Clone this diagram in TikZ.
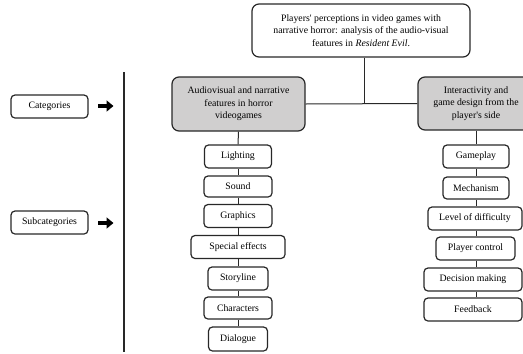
\documentclass[tikz,border=0pt]{standalone}
\usepackage{fontspec}
\setmainfont{Liberation Serif}
\usetikzlibrary{arrows.meta}
\definecolor{boxgray}{RGB}{208,207,207}
\definecolor{edge}{RGB}{40,40,40}
\begin{document}
\begin{tikzpicture}[x=1pt,y=-1pt,
  base/.style={draw=edge,line width=1.2pt,rounded corners=4pt,align=center,
    font=\fontsize{9.8}{12.5}\selectfont,inner sep=0pt,minimum height=23pt},
  sub/.style={base,fill=white},
  cat/.style={base,fill=boxgray,minimum height=54pt,rounded corners=7pt},
  conn/.style={draw=edge,line width=1pt},
  bigarrow/.style={line width=4.5pt,-{Triangle[length=7pt,width=11pt]}}]
\useasboundingbox (0,0) rectangle (523,354);
% title
\node[base,minimum width=218pt,minimum height=53pt,rounded corners=7pt] (top) at (361,30.5)
  {Players\textquotesingle{} perceptions in video games with\\narrative horror: analysis of the audio-visual\\features in \textit{Resident Evil}.};
% categories
\node[cat,minimum width=133pt] (L) at (238.5,104) {Audiovisual and narrative\\features in horror\\videogames};
\node[cat,minimum width=116pt,minimum height=53pt] (R) at (476,103.5) {Interactivity and\\game design from the\\player\textquotesingle s side};
\coordinate (j) at (364,104);
\draw[conn] (top.south -| j) -- (j);
\draw[conn] (L.east) -- (R.west);
% left subcategories
\node[sub,minimum width=67pt] (l1) at (238,156.5) {Lighting};
\node[sub,minimum width=68pt,minimum height=21pt] (l2) at (238,186.5) {Sound};
\node[sub,minimum width=68pt] (l3) at (238,216) {Graphics};
\node[sub,minimum width=94pt] (l4) at (238,247) {Special effects};
\node[sub,minimum width=60pt] (l5) at (238,278.5) {Storyline};
\node[sub,minimum width=68pt,minimum height=22pt] (l6) at (238,308) {Characters};
\node[sub,minimum width=59pt,minimum height=24pt] (l7) at (238,339) {Dialogue};
\draw[conn] (L.south) -- (l1.north);
\foreach \a/\b in {l1/l2,l2/l3,l3/l4,l4/l5,l5/l6,l6/l7}
  \draw[conn] (\a.south) -- (\b.north);
% right subcategories
\node[sub,minimum width=66pt] (r1) at (476,156.5) {Gameplay};
\node[sub,minimum width=66pt,minimum height=22pt] (r2) at (476,188) {Mechanism};
\node[sub,minimum width=94pt] (r3) at (475,218.5) {Level of difficulty};
\node[sub,minimum width=79pt] (r4) at (475.5,248.5) {Player control};
\node[sub,minimum width=98pt] (r5) at (473,279.5) {Decision making};
\node[sub,minimum width=98pt] (r6) at (473,309.5) {Feedback};
\draw[conn] (R.south) -- (R.south |- r1.north);
\foreach \a/\b in {r1/r2,r2/r3,r3/r4,r4/r5,r5/r6}
  \draw[conn] (R.south |- \a.south) -- (R.south |- \b.north);
% legend
\node[sub,minimum width=77pt] (kc) at (49.5,106.5) {Categories};
\node[sub,minimum width=77pt] (ks) at (49.5,222.5) {Subcategories};
\coordinate (a1s) at (98,106);
\coordinate (a1e) at (113.5,106);
\coordinate (a2s) at (98,223);
\coordinate (a2e) at (113.5,223);
\draw[bigarrow] (a1s) -- (a1e);
\draw[bigarrow] (a2s) -- (a2e);
\coordinate (vt) at (124,72);
\coordinate (vb) at (124,352);
\draw[draw=edge,line width=1.2pt] (vt) -- (vb);
\end{tikzpicture}
\end{document}
